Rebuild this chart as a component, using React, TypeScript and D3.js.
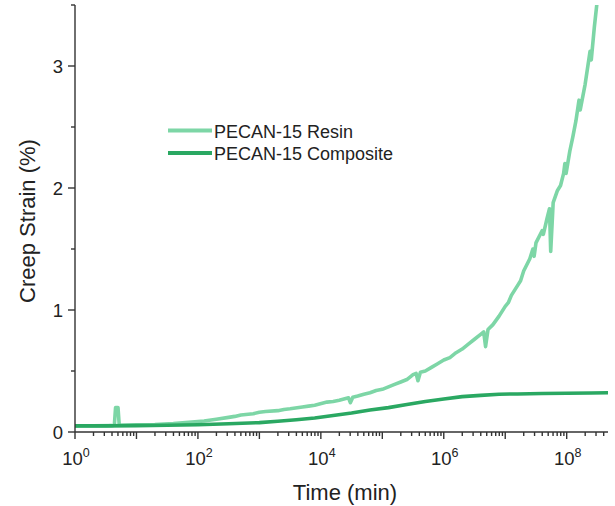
import React from "react";
import * as d3 from "d3";

// log10(time in min) and creep strain (%)
const resinLogT = [0.0, 0.3, 0.6, 0.64, 0.66, 0.7, 0.72, 1.0, 1.3, 1.6, 1.9, 2.1, 2.3, 2.5, 2.6, 2.7, 2.9, 3.0, 3.1, 3.3, 3.4, 3.5, 3.7, 3.8, 3.9, 4.1, 4.2, 4.3, 4.45, 4.48, 4.52, 4.6, 4.7, 4.8, 4.9, 5.0, 5.1, 5.2, 5.3, 5.4, 5.5, 5.55, 5.58, 5.62, 5.7, 5.8, 5.9, 6.0, 6.1, 6.2, 6.3, 6.4, 6.5, 6.6, 6.65, 6.68, 6.72, 6.8, 6.9, 7.0, 7.05, 7.1, 7.2, 7.25, 7.3, 7.4, 7.45, 7.47, 7.5, 7.6, 7.62, 7.68, 7.72, 7.74, 7.78, 7.85, 7.9, 7.95, 7.97, 7.99, 8.05, 8.1, 8.15, 8.2, 8.22, 8.3, 8.38, 8.4, 8.45, 8.5];
const resinStrain = [0.05, 0.05, 0.052, 0.055, 0.2, 0.2, 0.055, 0.058, 0.062, 0.07, 0.082, 0.09, 0.105, 0.12, 0.128, 0.14, 0.15, 0.162, 0.168, 0.175, 0.185, 0.19, 0.205, 0.212, 0.22, 0.245, 0.25, 0.26, 0.28, 0.24, 0.285, 0.295, 0.31, 0.322, 0.34, 0.35, 0.37, 0.39, 0.41, 0.43, 0.47, 0.48, 0.42, 0.49, 0.5, 0.53, 0.56, 0.59, 0.61, 0.65, 0.68, 0.72, 0.76, 0.8, 0.82, 0.7, 0.84, 0.88, 0.95, 1.03, 1.06, 1.12, 1.2, 1.24, 1.32, 1.42, 1.5, 1.44, 1.55, 1.65, 1.62, 1.75, 1.83, 1.48, 1.88, 1.98, 2.02, 2.12, 2.2, 2.12, 2.3, 2.42, 2.55, 2.72, 2.64, 2.85, 3.12, 3.05, 3.32, 3.55];

const compositeLogT = [0.0, 0.5, 1.0, 1.5, 2.0, 2.5, 3.0, 3.3, 3.6, 3.9, 4.2, 4.5, 4.8, 5.1, 5.4, 5.7, 6.0, 6.3, 6.6, 6.9, 7.2, 7.6, 8.0, 8.4, 8.67];
const compositeStrain = [0.05, 0.05, 0.052, 0.055, 0.06, 0.068, 0.077, 0.088, 0.1, 0.115, 0.135, 0.155, 0.18, 0.2, 0.225, 0.25, 0.27, 0.29, 0.3, 0.31, 0.312, 0.315, 0.318, 0.32, 0.322];

const seriesNames = ["PECAN-15 Resin", "PECAN-15 Composite"];
const seriesColors = ["#7dd6a6", "#2aa862"];

const yMajorTicks = [0, 1, 2, 3];
const yMinorTicks = [0.5, 1.5, 2.5, 3.5];
const xLabelExponents = [0, 2, 4, 6, 8];

const W = 615, H = 506;
const m = { left: 75, right: 7, top: 5, bottom: 74 };
const font = "'Liberation Sans', Arial, sans-serif";
const axisColor = "#333";

export default function App() {
  const x = d3.scaleLog().domain([1, 4.7e8]).range([m.left, W - m.right]);
  const y = d3.scaleLinear().domain([0, 3.5]).range([H - m.bottom, m.top]);
  const y0 = H - m.bottom;

  const resin = resinLogT.map((t, i) => [Math.pow(10, t), resinStrain[i]] as [number, number]);
  const comp = compositeLogT.map((t, i) => [Math.pow(10, t), compositeStrain[i]] as [number, number]);
  const line = d3.line<[number, number]>().x(d => x(d[0])).y(d => y(d[1]));

  const majorX: number[] = [];
  const minorX: number[] = [];
  for (let e = 0; e <= 8; e++) {
    majorX.push(Math.pow(10, e));
    for (let k = 2; k <= 9; k++) {
      const v = k * Math.pow(10, e);
      if (v <= 4.7e8) minorX.push(v);
    }
  }

  return (
    <svg width={W} height={H} style={{ position: "absolute", left: 0, top: 0, background: "#fff" }} fontFamily={font}>
      <defs>
        <clipPath id="plot">
          <rect x={m.left} y={m.top} width={W - m.left - m.right} height={y0 - m.top} />
        </clipPath>
      </defs>
      <g clipPath="url(#plot)" fill="none" strokeLinejoin="round" strokeLinecap="round">
        <path d={line(resin) || ""} stroke={seriesColors[0]} strokeWidth={3.6} />
        <path d={line(comp) || ""} stroke={seriesColors[1]} strokeWidth={3.6} />
      </g>
      {/* axes */}
      <g stroke={axisColor} strokeWidth={1.4}>
        <line x1={m.left} x2={m.left} y1={m.top} y2={y0} />
        <line x1={m.left} x2={W - m.right} y1={y0} y2={y0} />
        {yMajorTicks.map(t => (
          <line key={"ym" + t} x1={m.left - 7} x2={m.left} y1={y(t)} y2={y(t)} />
        ))}
        {yMinorTicks.map(t => (
          <line key={"yn" + t} x1={m.left - 4} x2={m.left} y1={y(t)} y2={y(t)} />
        ))}
        {majorX.map(t => (
          <line key={"xm" + t} x1={x(t)} x2={x(t)} y1={y0} y2={y0 + 7} />
        ))}
        {minorX.map(t => (
          <line key={"xn" + t} x1={x(t)} x2={x(t)} y1={y0} y2={y0 + 4} />
        ))}
      </g>
      {yMajorTicks.map(t => (
        <text key={"yl" + t} x={m.left - 12} y={y(t) + 6.6} textAnchor="end" fontSize={18.5} fill="#222">{t}</text>
      ))}
      {xLabelExponents.map(e => (
        <text key={"xl" + e} x={x(Math.pow(10, e)) + 1} y={465} textAnchor="middle" fontSize={18.5} fill="#222">
          10<tspan fontSize={12.5} dy={-8}>{e}</tspan>
        </text>
      ))}
      <text x={345} y={500} textAnchor="middle" fontSize={22} fill="#222">Time (min)</text>
      <text transform={`translate(35,221) rotate(-90)`} textAnchor="middle" fontSize={22} fill="#222">Creep Strain (%)</text>
      {/* legend */}
      {seriesNames.map((n, i) => (
        <g key={n}>
          <line x1={168} x2={212} y1={130.5 + i * 22.5} y2={130.5 + i * 22.5} stroke={seriesColors[i]} strokeWidth={4} />
          <text x={214} y={137.5 + i * 22.5} fontSize={18} fill="#222">{n}</text>
        </g>
      ))}
    </svg>
  );
}
